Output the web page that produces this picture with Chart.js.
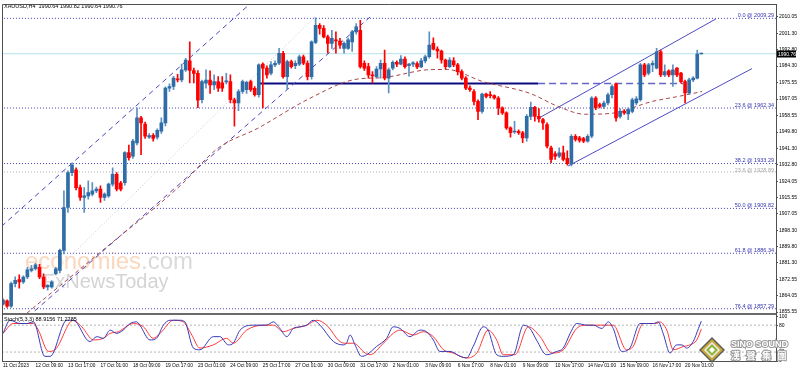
<!DOCTYPE html>
<html><head><meta charset="utf-8">
<script src="https://cdn.jsdelivr.net/npm/chart.js@4.4.0/dist/chart.umd.min.js"></script>
<style>html,body{margin:0;padding:0;background:#fff;}#wrap{width:798px;height:372px;position:relative;}</style>
</head><body><div id="wrap"><canvas id="c" width="798" height="372"></canvas></div>
<script>
// ---------- DATA ----------
const xTickLabels = ["11 Oct 2023","12 Oct 09:00","13 Oct 17:00","17 Oct 01:00","18 Oct 09:00","19 Oct 17:00","23 Oct 01:00","24 Oct 09:00","25 Oct 17:00","27 Oct 01:00","30 Oct 09:00","31 Oct 17:00","2 Nov 01:00","3 Nov 09:00","6 Nov 17:00","8 Nov 01:00","9 Nov 09:00","10 Nov 17:00","14 Nov 01:00","15 Nov 09:00","16 Nov 17:00","20 Nov 01:00"];
const priceTicks = [2010.05,2001.30,1992.80,1984.30,1975.55,1967.05,1958.55,1949.80,1941.30,1932.80,1924.05,1915.55,1907.05,1898.30,1889.80,1881.30,1872.55,1864.05,1855.55];
const stochTicks = [0,20,80,100];

const open = [1859.7,1861.4,1858.6,1870.4,1872.5,1871.3,1873.9,1877.4,1878.2,1879.0,1873.9,1868.7,1868.7,1875.6,1877.4,1887.8,1910.3,1928.5,1930.0,1920.7,
1915.5,1916.4,1917.3,1919.0,1919.9,1915.5,1916.4,1922.5,1927.7,1923.0,1923.3,1939.0,1937.2,1944.1,1957.2,1954.0,1947.1,1948.1,1947.1,1950.2,
1954.6,1972.8,1973.6,1977.6,1977.1,1982.3,1987.0,1982.0,1980.5,1966.7,1975.3,1977.0,1974.5,1976.2,1975.5,1976.0,1976.2,1966.7,1965.0,1971.0,
1972.0,1976.2,1972.7,1969.3,1985.3,1983.2,1980.6,1984.9,1985.8,1991.0,1978.8,1986.6,1984.5,1985.3,1989.2,1985.8,1978.8,1996.7,2005.7,2004.0,
1999.6,1996.2,1998.0,1997.4,1993.6,1993.6,1997.0,2002.2,2003.0,1985.8,1984.0,1979.7,1978.8,1982.8,1985.8,1978.0,1983.2,1986.3,1985.3,1988.0,
1984.5,1985.3,1985.6,1983.9,1987.0,1989.2,1996.2,1993.2,1992.2,1987.5,1984.0,1987.0,1984.9,1981.4,1978.0,1972.8,1971.0,1965.8,1960.6,1969.6,
1969.3,1968.8,1967.6,1962.4,1959.8,1952.0,1949.8,1950.2,1949.4,1946.7,1958.0,1962.7,1958.0,1956.3,1953.7,1941.5,1938.4,1937.2,1938.9,1936.0,
1932.9,1947.6,1946.7,1946.4,1945.0,1947.6,1967.6,1964.1,1963.2,1965.0,1969.3,1975.0,1958.0,1960.6,1959.2,1960.6,1965.0,1966.7,1984.9,1980.6,
1984.9,1983.2,1991.8,1979.7,1981.8,1979.7,1983.2,1980.6,1976.2,1970.2,1977.1,1978.0,1990.64];
const high = [1862.6,1862.0,1871.3,1874.0,1875.0,1874.5,1879.0,1880.0,1881.0,1880.5,1875.5,1870.0,1872.0,1879.0,1888.5,1919.0,1929.5,1933.5,1931.0,1922.0,
1920.7,1924.2,1923.3,1921.0,1921.6,1918.0,1923.0,1931.0,1928.5,1924.0,1939.5,1943.0,1946.0,1962.4,1958.0,1955.0,1949.0,1949.0,1951.5,1957.2,
1973.5,1975.0,1979.0,1980.0,1985.3,1988.4,1997.0,1983.2,1982.0,1977.0,1982.3,1981.8,1979.7,1978.8,1978.8,1980.5,1979.7,1967.5,1972.0,1977.0,
1976.5,1977.0,1973.6,1985.5,1986.0,1984.5,1986.6,1987.0,1993.6,1992.0,1987.5,1987.5,1987.0,1990.0,1990.0,1987.0,1997.5,2009.5,2006.5,2005.5,
2000.5,2003.0,2002.2,1998.8,1997.0,1999.0,2003.0,2006.5,2008.3,1987.0,1985.8,1981.4,1984.0,1987.5,1992.7,1983.2,1987.0,1987.0,1989.8,1989.2,
1985.8,1986.6,1986.5,1988.4,1990.0,2002.2,1999.1,1994.4,1992.7,1988.0,1988.8,1988.8,1985.8,1982.3,1978.8,1974.0,1972.0,1966.7,1970.2,1970.2,
1971.0,1969.3,1968.4,1963.0,1960.3,1952.5,1955.4,1951.0,1950.2,1958.9,1965.5,1963.2,1962.0,1957.0,1954.6,1942.4,1939.5,1941.5,1942.4,1940.0,
1948.5,1948.5,1947.5,1947.0,1948.5,1968.4,1968.4,1965.0,1966.0,1970.2,1974.5,1975.4,1962.0,1961.5,1962.4,1967.6,1968.4,1985.8,1985.8,1985.8,
1987.0,1993.6,1992.7,1985.0,1982.3,1984.9,1983.5,1981.0,1977.0,1978.0,1978.8,1992.7,1990.82];
const low = [1859.2,1858.0,1858.0,1868.7,1868.0,1870.5,1873.0,1876.5,1877.5,1873.0,1867.8,1867.0,1868.0,1875.0,1876.0,1886.0,1907.7,1927.0,1919.5,1914.0,
1907.7,1914.6,1916.4,1918.0,1912.9,1914.0,1915.5,1921.5,1919.0,1919.0,1922.0,1935.0,1936.0,1943.0,1938.0,1946.5,1946.5,1945.0,1946.0,1949.0,
1953.0,1971.0,1972.0,1976.0,1976.0,1981.5,1975.5,1975.5,1962.5,1965.0,1972.7,1970.0,1971.9,1971.0,1971.0,1975.0,1965.0,1952.8,1961.0,1970.0,
1970.0,1971.0,1968.5,1968.0,1962.4,1978.0,1979.7,1984.0,1985.0,1978.0,1971.9,1983.2,1983.0,1984.5,1985.0,1977.0,1977.5,1996.0,2001.0,1999.0,
1991.0,1993.6,1991.0,1993.6,1991.0,1993.0,1992.0,2001.0,1983.2,1982.0,1978.0,1975.5,1978.0,1978.0,1977.1,1970.2,1982.3,1984.0,1984.9,1983.2,
1979.0,1984.0,1983.0,1983.5,1986.0,1988.4,1992.7,1988.4,1985.8,1983.0,1983.5,1984.0,1979.7,1977.1,1972.0,1971.0,1964.0,1956.3,1959.7,1967.6,
1967.6,1967.0,1958.9,1959.0,1951.1,1947.1,1949.0,1948.5,1944.2,1945.0,1956.3,1955.5,1955.0,1951.1,1941.5,1933.7,1935.5,1936.3,1934.6,1932.4,
1932.0,1945.0,1944.5,1944.2,1944.5,1946.7,1961.5,1962.4,1962.0,1964.0,1967.6,1955.5,1957.0,1959.0,1956.3,1959.8,1964.0,1966.0,1978.8,1979.7,
1981.4,1982.8,1978.8,1978.8,1978.8,1973.6,1978.8,1975.4,1965.0,1969.3,1976.2,1977.6,1990.64];
const close = [1861.8,1858.6,1870.4,1872.2,1871.3,1873.9,1877.7,1878.2,1880.3,1873.9,1868.7,1869.5,1871.3,1878.2,1887.8,1910.3,1928.5,1932.5,1920.7,1915.5,
1916.4,1918.1,1919.0,1919.9,1915.5,1917.3,1922.5,1927.7,1919.9,1919.9,1939.0,1936.3,1945.0,1957.2,1954.6,1947.6,1947.9,1946.4,1950.7,1954.6,
1972.8,1973.6,1978.0,1977.1,1982.3,1987.5,1982.0,1980.5,1966.5,1976.2,1977.0,1974.5,1976.2,1972.7,1972.7,1976.5,1966.7,1965.0,1971.0,1976.2,
1975.8,1971.9,1969.3,1984.9,1983.2,1979.7,1984.9,1985.8,1991.0,1978.8,1986.6,1984.0,1985.8,1989.2,1985.8,1978.8,1997.0,2005.7,2004.0,1999.6,
1996.2,1998.8,1997.5,1995.3,1996.2,1998.0,2002.2,2004.8,1984.0,1983.2,1979.7,1979.2,1982.8,1985.8,1978.0,1982.3,1986.3,1985.3,1988.0,1984.0,
1985.3,1986.0,1983.9,1987.0,1989.2,1995.3,1993.2,1992.2,1987.5,1984.0,1987.5,1984.9,1981.4,1978.0,1972.8,1971.9,1965.8,1960.6,1969.6,1968.4,
1968.8,1967.6,1962.4,1959.8,1952.0,1949.4,1950.3,1949.4,1946.7,1958.0,1962.7,1958.0,1956.8,1954.6,1942.4,1935.5,1937.2,1938.9,1935.5,1933.2,
1947.6,1945.9,1945.4,1945.0,1947.6,1967.6,1962.4,1963.2,1965.0,1969.3,1973.6,1957.2,1960.6,1959.8,1961.5,1966.7,1967.2,1984.9,1979.7,1984.9,
1985.8,1991.8,1979.7,1981.4,1979.7,1982.3,1979.7,1976.2,1970.2,1977.1,1978.0,1990.6,1990.76];

// moving average read at [candle index, price]
const maLine = [[5.9,1855.0],[24.5,1887.8],[43.6,1921.6],[53,1941.4],[62.8,1951.8],[75.1,1966.9],[86.7,1977.3],[93.6,1978.3],[105.9,1982.5],[109.4,1982.5],[118.2,1976.2],[129.8,1970.0],[136.7,1963.2],[143.3,1959.1],[150,1959.6],[159.9,1965.8],[166.3,1968.4],[172.2,1971.0]];

// Stochastic (5,3,3) read at [candle index, value]
const stochK = [[0,61.7],[1.7,91],[4.2,83.7],[5.8,83.7],[7.5,87.4],[10.3,10.4],[11.6,10.4],[15.7,91],[17.3,91],[21.4,43.4],[23.1,54.4],[24.7,50.7],[26.4,69],[28,61.7],[29.6,69],[31.3,83.7],[32.9,87.4],[33.7,80],[36.2,47],[37.8,50.7],[39.5,80],[41.1,91],[43.6,91],[44.8,87.4],[46.9,28.8],[48.5,25],[51.8,54.4],[53.4,54.4],[55.5,36],[56.7,39.7],[58.4,69],[61.7,80],[64.9,80],[66.6,87.4],[68.2,72.7],[69.9,54.4],[71.5,72.7],[73.2,76.4],[74.8,80],[76.4,91],[78.1,80],[81.4,43.4],[83.8,36],[84.6,39.7],[85.5,58],[86.7,36],[88.3,10.4],[89.6,14],[92,32.4],[94.5,50.7],[96.1,76.4],[97.8,72.7],[100.2,54.4],[102.7,69],[104.3,65.4],[106,47],[107.6,21.4],[110.1,21.4],[112.6,10.4],[114.2,6.8],[115.8,32.4],[118.3,76.4],[119.5,69],[121.6,14],[123.2,10.4],[125.7,14],[128.2,80],[129.8,72.7],[131.4,47],[133.9,14],[136.4,21.4],[138,28.8],[139.7,61.7],[141.3,83.7],[143.8,80],[145.4,80],[147.5,72.7],[149.1,87.4],[150.3,72.7],[152.4,21.4],[154.4,28.8],[156.9,83.7],[158.5,83.7],[160.2,83.7],[161.4,87.4],[162.6,61.7],[164.3,17.8],[165.9,36],[167.2,36],[168.4,28.8],[170,43.4],[171.3,72.7],[172,88.9]];
const stochD = [[0,61.7],[2.5,83.7],[7.5,83.7],[8.7,69],[11.2,21.4],[12.8,25],[17.3,91],[19.4,76.4],[22.3,47],[24.7,50.7],[26.4,61.7],[28.4,65.4],[32.1,83.7],[34.6,76.4],[37,50.7],[38.7,61.7],[42,91],[44.4,87.4],[46.5,58],[48.5,28.8],[51.8,36],[55.1,50.7],[56.7,39.7],[60,69],[64.1,80],[66.6,80],[69,65.4],[71.5,72.7],[74.8,80],[77.3,91],[79.7,80],[83,43.4],[84.6,39.7],[86.3,39.7],[89.2,17.8],[90.4,14],[93.7,39.7],[96.1,61.7],[97.8,69],[101.1,58],[103.5,65.4],[106,54.4],[108.5,25],[110.9,17.8],[114.2,6.8],[116.7,17.8],[119.5,69],[121.6,47],[123.2,14],[126.1,14],[129.4,76.4],[132.3,54.4],[135.2,17.8],[138,25],[141.3,72.7],[143.8,80],[147.1,80],[150.3,80],[153.6,25],[155.2,32.4],[157.7,83.7],[161,83.7],[161.8,87.4],[163.5,69],[165.1,25],[167.6,32.4],[169.2,36],[170.9,47],[172,71.3]];

const fibLabels = ["0.0 @ 2009.29","23.6 @ 1962.34","38.2 @ 1933.29","50.0 @ 1909.82","61.8 @ 1886.34","76.4 @ 1857.29"];
const fibPrices = [2009.29,1962.34,1933.29,1909.82,1886.34,1857.29];
const fib2Label = "23.6 @ 1928.89";
const fib2Price = 1928.89;
const bidPrice = 1990.76;
const hLevel = 1975.2;
const chanAUpper = [[-2,1897.3],[60.8,2016.8]];
const chanALower = [[4.5,1850.0],[90.4,2010.0]];
const chanAMid = [[9,1869.0],[76.8,2010.0]];
const chanBUpper = [[131.5,1956.5],[175.6,2009.0]];
const chanBLower = [[139.2,1932.0],[184.5,1983.0]];
const hSolid = [62.8,131.8];
const hDashed = [131.8,167.5];
const headerText = "XAUUSD,H4  1990.64 1990.82 1990.64 1990.76";
const stochText = "Stoch(5,3,3) 88.9156 71.2785";

// ---------- CHART ----------
const XMIN = -0.25, XMAX = 190.4;
const UP = '#2e6da6', DOWN = '#ff0000', UPW = '#5d8fc2';
const FONT = '"Liberation Sans", Arial, sans-serif';
const pts = a => a.map(p => ({x:p[0], y:p[1]}));
const hl = (v, a = XMIN - 1, b = XMAX + 1) => [{x:a, y:v}, {x:b, y:v}];

const wickData = open.map((o,i) => ({x:i, y:[low[i], high[i]]}));
const bodyData = open.map((o,i) => ({x:i, y:[o, close[i]]}));
const colr = open.map((o,i) => close[i] >= o ? UP : DOWN);
const wcolr = open.map((o,i) => close[i] >= o ? UPW : DOWN);

const lineDs = (data, color, opts = {}) => Object.assign({type:'line', data, borderColor:color, borderWidth:1, pointRadius:0, fill:false, yAxisID:'y', order:3}, opts);

const datasets = [
  {type:'bar', data:bodyData, backgroundColor:colr, barThickness:3, minBarLength:1, grouped:false, yAxisID:'y', order:0},
  {type:'bar', data:wickData, backgroundColor:wcolr, barThickness:1, minBarLength:1, grouped:false, yAxisID:'y', order:1},
  lineDs(hl(bidPrice), '#b4e2ea', {order:5}),
  lineDs(hl(fib2Price), '#b0b0b0', {borderDash:[1,2], order:5}),
  ...fibPrices.map(p => lineDs(hl(p), '#4040b8', {borderDash:[1,2], order:5})),
  lineDs(pts(maLine), '#a84848', {borderDash:[4,3], cubicInterpolationMode:'monotone', order:2}),
  lineDs(pts(chanAUpper), '#4848c0', {borderDash:[5,4], order:2}),
  lineDs(pts(chanALower), '#4848c0', {borderDash:[5,4], order:2}),
  lineDs(pts(chanAMid), '#c8c8e4', {borderDash:[1,2], order:4}),
  lineDs(pts(chanBUpper), '#4b4bc4', {order:2}),
  lineDs(pts(chanBLower), '#4b4bc4', {order:2}),
  lineDs([{x:hSolid[0],y:hLevel},{x:hSolid[1],y:hLevel}], '#0b0b80', {borderWidth:2, order:2}),
  lineDs([{x:hDashed[0],y:hLevel},{x:hDashed[1],y:hLevel}], '#6464cc', {borderWidth:1.5, borderDash:[7,4], order:2}),
  {type:'line', data:hl(80), borderColor:'#b4b4b4', borderWidth:1, borderDash:[2,2], pointRadius:0, yAxisID:'y2', order:6},
  {type:'line', data:hl(20), borderColor:'#b4b4b4', borderWidth:1, borderDash:[2,2], pointRadius:0, yAxisID:'y2', order:6},
  {type:'line', data:pts(stochD), borderColor:'#ff3a3a', borderWidth:1, pointRadius:0, cubicInterpolationMode:'monotone', yAxisID:'y2', order:1},
  {type:'line', data:pts(stochK), borderColor:'#3a3ab8', borderWidth:1, pointRadius:0, cubicInterpolationMode:'monotone', yAxisID:'y2', order:0}
];

const deco = {
  id:'deco',
  beforeDatasetsDraw(chart){
    const ctx = chart.ctx;
    ctx.save();
    ctx.textBaseline = 'alphabetic';
    ctx.font = '24px ' + FONT;
    ctx.fillStyle = '#fbd7bd';
    ctx.fillText('economies', 25, 269);
    const w = ctx.measureText('economies').width;
    ctx.fillStyle = '#dadada';
    ctx.fillText('.com', 25 + w, 269);
    ctx.font = '20px ' + FONT;
    ctx.fillStyle = '#d4d4d4';
    ctx.fillText('FxNewsToday', 43, 288);
    ctx.restore();
  },
  afterDatasetsDraw(chart){
    const ctx = chart.ctx, y = chart.scales.y, ca = chart.chartArea;
    ctx.save();
    ctx.font = '5.5px ' + FONT;
    ctx.textAlign = 'right';
    ctx.textBaseline = 'bottom';
    fibPrices.forEach((p,k) => { ctx.fillStyle = '#3434b0'; ctx.fillText(fibLabels[k], 774, y.getPixelForValue(p)); });
    ctx.fillStyle = '#a8a8a8';
    ctx.fillText(fib2Label, 774, y.getPixelForValue(fib2Price) + 1);
    ctx.textAlign = 'left';
    ctx.textBaseline = 'top';
    ctx.fillStyle = '#000';
    ctx.fillText(headerText, 4, 4);
    ctx.fillText(stochText, 4, 316.5);
    ctx.fillStyle = '#6a6a6a';
    ctx.fillRect(ca.left, 313, ca.right - ca.left, 2);
    ctx.strokeStyle = '#505050';
    ctx.lineWidth = 1;
    ctx.beginPath();
    ctx.moveTo(ca.left + 0.5, ca.bottom); ctx.lineTo(ca.left + 0.5, ca.top + 0.5); ctx.lineTo(ca.right, ca.top + 0.5);
    ctx.stroke();
    ctx.restore();
  },
  afterDraw(chart){
    const ctx = chart.ctx, y = chart.scales.y;
    ctx.save();
    const py = Math.round(y.getPixelForValue(bidPrice));
    ctx.fillStyle = '#000';
    ctx.fillRect(777, py - 3.5, 19, 7);
    ctx.fillStyle = '#fff';
    ctx.font = '5px ' + FONT;
    ctx.textBaseline = 'middle';
    ctx.fillText(bidPrice.toFixed(2), 778, py + 0.5);
    const cx = 712, cy = 350;
    const dia = (r, fill) => { ctx.beginPath(); ctx.moveTo(cx, cy - r); ctx.lineTo(cx + r, cy); ctx.lineTo(cx, cy + r); ctx.lineTo(cx - r, cy); ctx.closePath(); ctx.fillStyle = fill; ctx.fill(); };
    dia(13, '#5a5a5a');
    dia(11, '#c8a93a');
    dia(8, '#efefef');
    dia(6, '#8fb53a');
    dia(3, '#ffffff');
    ctx.font = 'bold 9px ' + FONT;
    ctx.textBaseline = 'alphabetic';
    ctx.lineWidth = 2; ctx.strokeStyle = '#9a9a9a'; ctx.fillStyle = '#ffffff';
    ctx.strokeText('SINO SOUND', 731, 347); ctx.fillText('SINO SOUND', 731, 347);
    ctx.font = 'bold 9px "Noto Sans CJK TC"';
    ['漢','聲','集','團'].forEach((ch,k) => { ctx.strokeText(ch, 731 + k*15.5, 359); ctx.fillText(ch, 731 + k*15.5, 359); });
    ctx.restore();
  }
};

Chart.defaults.font.family = FONT;
Chart.defaults.color = '#000';
new Chart(document.getElementById('c'), {
  type:'bar',
  data:{datasets},
  options:{
    responsive:false, animation:false, devicePixelRatio:1,
    layout:{padding:{left:2, top:2, right:0, bottom:0}},
    plugins:{legend:{display:false}, tooltip:{enabled:false}},
    scales:{
      x:{type:'linear', min:XMIN, max:XMAX, position:'bottom', offset:false,
        grid:{display:true, drawOnChartArea:false, drawTicks:true, tickLength:2, color:'#505050'},
        border:{display:true, color:'#505050'},
        afterBuildTicks: s => { s.ticks = xTickLabels.map((_,k) => ({value:k*8})); },
        afterFit: s => { s.height = 11; },
        ticks:{autoSkip:false, maxRotation:0, align:'start', padding:0, font:{size:4.8}, color:'#000',
          callback:(v) => xTickLabels[Math.round(v/8)] || ''}},
      y:{type:'linear', position:'right', stack:'p', stackWeight:312, min:1854.4, max:2016.8,
        grid:{display:true, drawOnChartArea:false, tickLength:2, color:'#505050'},
        border:{display:true, color:'#505050'},
        afterBuildTicks: s => { s.ticks = priceTicks.map(v => ({value:v})); },
        afterFit: s => { s.width = 22; },
        ticks:{autoSkip:false, padding:1, font:{size:5}, color:'#000', callback:v => v.toFixed(2)}},
      y2:{type:'linear', position:'right', stack:'p', stackWeight:47, min:0, max:104.4,
        grid:{display:true, drawOnChartArea:false, tickLength:2, color:'#505050'},
        border:{display:true, color:'#505050'},
        afterBuildTicks: s => { s.ticks = stochTicks.map(v => ({value:v})); },
        afterFit: s => { s.width = 22; },
        ticks:{autoSkip:false, padding:1, font:{size:5}, color:'#000'}}
    }
  },
  plugins:[deco]
});
</script></body></html>
